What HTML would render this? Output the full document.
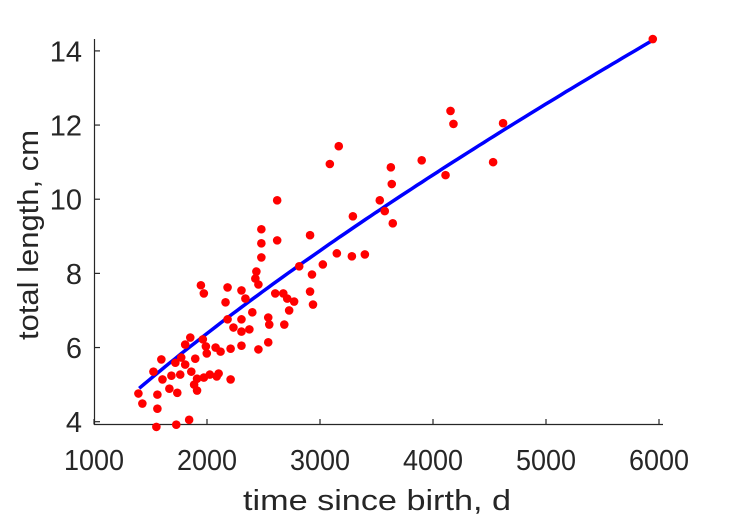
<!DOCTYPE html>
<html><head><meta charset="utf-8"><style>
html,body{margin:0;padding:0;background:#fff;}
svg{display:block;font-family:"Liberation Sans",Arial,sans-serif;}
</style></head><body>
<svg id="chart" width="729" height="521" viewBox="0 0 729 521" xmlns="http://www.w3.org/2000/svg">
<g id="axes"></g>
<g id="curve-layer"></g>
<g id="points-layer"></g>
<text x="377" y="510" text-anchor="middle" font-size="29" fill="#262626" textLength="268" lengthAdjust="spacingAndGlyphs">time since birth, d</text>
<text transform="translate(38,235) rotate(-90)" text-anchor="middle" font-size="29" fill="#262626" textLength="210" lengthAdjust="spacingAndGlyphs">total length, cm</text>
</svg>
<script>
const xTicks = [1000, 2000, 3000, 4000, 5000, 6000];
const yTicks = [4, 6, 8, 10, 12, 14];
const ageDays = [1393,1428,1561,1561,1552,1728,1842,1526,1596,1606,1667,1685,1737,1720,1763,1772,1807,1807,1852,1861,1896,1912,1886,1912,1972,2025,2086,2103,2209,1963,1990,1998,2076,2120,2209,2305,2455,2542,1946,1972,2182,2164,2305,2340,2182,2305,2234,2305,2375,2401,2542,2551,2684,2727,2771,2710,2675,2604,2912,2938,2816,2929,3025,3149,2437,2428,2455,2481,2481,2621,3166,3087,2621,2481,2912,3282,3397,3291,3529,3573,3644,3627,3635,3900,4111,4155,4181,4532,4620,5945];
const lengthCm = [4.76,4.49,4.73,4.35,3.86,3.92,4.05,5.35,5.68,5.14,4.89,5.24,4.78,5.59,5.27,5.73,5.54,6.08,6.27,5.35,5.70,4.84,5.0,5.16,5.19,5.27,5.22,5.30,5.14,6.22,6.03,5.84,6.0,5.89,5.97,6.05,5.95,6.14,7.68,7.46,7.62,7.22,7.54,7.32,6.76,6.76,6.54,6.43,6.49,6.95,6.81,6.62,6.62,7.0,7.24,7.32,7.46,7.46,7.51,7.16,8.19,7.97,8.24,8.54,8.05,7.86,7.70,8.43,8.81,8.89,11.43,10.95,9.97,9.19,9.03,8.46,8.51,9.54,9.97,9.68,9.35,10.86,10.41,11.05,10.65,12.38,12.03,11.0,12.05,14.32];
const fitRange = [1400, 5950];
const fitParams = [4.9, 0.74]; // L = a*(t/1400)^b

const NS = "http://www.w3.org/2000/svg";
const X0 = 94, PXPER1000 = 113;
const xScale = v => X0 + (v - 1000) * PXPER1000 / 1000;
const yScale = v => 421.7 - (v - 4) * 37.08;
function mk(tag, attrs, parent){ const e=document.createElementNS(NS,tag); for(const k in attrs) e.setAttribute(k,attrs[k]); parent.appendChild(e); return e; }

const axes = document.getElementById('axes');
const yAxis = mk('path',{d:`M${X0+0.5},39 V424.5`,stroke:'#262626','stroke-width':1.2,fill:'none'},axes);


const xAxis = mk('path',{d:`M${X0},424.5 H663`,stroke:'#262626','stroke-width':1.2,fill:'none'},axes);


xTicks.forEach(t=>{
  const x = xScale(t);
  const tk = mk('line',{x1:x,x2:x,y1:424.5,y2:419,stroke:'#262626','stroke-width':1.2},axes);
  
  
  const lb = mk('text',{x:x,y:470,'text-anchor':'middle','font-size':29,fill:'#262626',textLength:60,lengthAdjust:'spacingAndGlyphs'},axes);
  lb.textContent = t;
  
  
});
yTicks.forEach(t=>{
  const y = yScale(t);
  const tk = mk('line',{x1:X0,x2:X0+6,y1:y,y2:y,stroke:'#262626','stroke-width':1.2},axes);
  
  
  const lb = mk('text',{x:82,y:y+10.5,'text-anchor':'end','font-size':29,fill:'#262626'},axes);
  lb.textContent = t;
  
  
});

const cl = document.getElementById('curve-layer');
let d='';
for(let i=0;i<=100;i++){
  const t = fitRange[0] + (fitRange[1]-fitRange[0])*i/100;
  const L = fitParams[0]*Math.pow(t/1400, fitParams[1]);
  d += (i?'L':'M') + xScale(t).toFixed(1) + ',' + yScale(L).toFixed(1);
}
const curve = mk('path',{d:d,stroke:'#0000ff','stroke-width':3.5,fill:'none','stroke-linecap':'butt'},cl);



const pl = document.getElementById('points-layer');
ageDays.forEach((a,i)=>{
  const c = mk('circle',{cx:xScale(a),cy:yScale(lengthCm[i]),r:4.3,fill:'#ff0000'},pl);
  
  
});
</script>
</body></html>
